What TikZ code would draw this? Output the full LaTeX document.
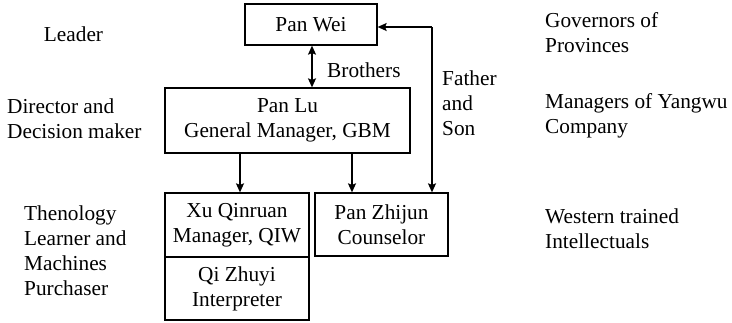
\documentclass[tikz,border=0pt]{standalone}
\usepackage{fontspec}
\setmainfont{Liberation Serif}
\usetikzlibrary{arrows.meta}
\begin{document}
\begin{tikzpicture}[x=1pt,y=-1pt,
  every node/.style={font=\fontsize{21.3}{25}\selectfont, inner sep=0pt},
  box/.style={draw, line width=1.3pt, align=center},
  lbl/.style={align=left, anchor=west},
  arr/.style={line width=1.3pt, -{Stealth[length=9pt,width=8pt,inset=1.5pt]}},
  dbl/.style={line width=1.3pt, {Stealth[length=9pt,width=8pt,inset=1.5pt]}-{Stealth[length=9pt,width=8pt,inset=1.5pt]}}]
\useasboundingbox (0,0) rectangle (732,322);
% boxes
\node[box, minimum width=132pt, minimum height=41pt] (pw) at (311,24.5) {Pan Wei};
\node[box, minimum width=245pt, minimum height=65pt] (pl) at (287.5,120.5) {Pan Lu\\General Manager, GBM};
\node[box, minimum width=144pt, minimum height=64pt] (xu) at (237,225) {Xu Qinruan\\Manager, QIW};
\node[box, minimum width=144pt, minimum height=63pt] (qi) at (237,288.5) {Qi Zhuyi\\Interpreter};
\node[box, minimum width=133pt, minimum height=63pt] (pz) at (381.5,224.5) {Pan Zhijun\\Counselor};
% connectors
\draw[dbl] ([xshift=1pt]pw.south) -- ([xshift=1pt]pw.south |- pl.north);
\draw[arr] ([xshift=3pt]xu.north |- pl.south) -- ([xshift=3pt]xu.north);
\draw[arr] ([xshift=-29.5pt]pz.north |- pl.south) -- ([xshift=-29.5pt]pz.north);
\coordinate (corner) at (432,27);
\draw[arr] (corner) -- ([xshift=50.5pt]pz.north);
\draw[arr] (corner) -- (corner -| pw.east);
% relation labels
\node[lbl] (bro) at (327,70) {Brothers};
\node[lbl] (fs) at (442,103) {Father\\and\\Son};
% left labels
\node (lead) at (73.5,34) {Leader};
\node[lbl] (dir) at (7,119) {Director and\\Decision maker};
\node[lbl] (tech) at (24,251) {Thenology\\Learner and\\Machines\\Purchaser};
% right labels
\node[lbl] (gov) at (545,33) {Governors of\\Provinces};
\node[lbl] (man) at (545,116) {Managers of Yangwu\\Company};
\node[lbl] (wes) at (545,229) {Western trained\\Intellectuals};
\end{tikzpicture}
\end{document}
